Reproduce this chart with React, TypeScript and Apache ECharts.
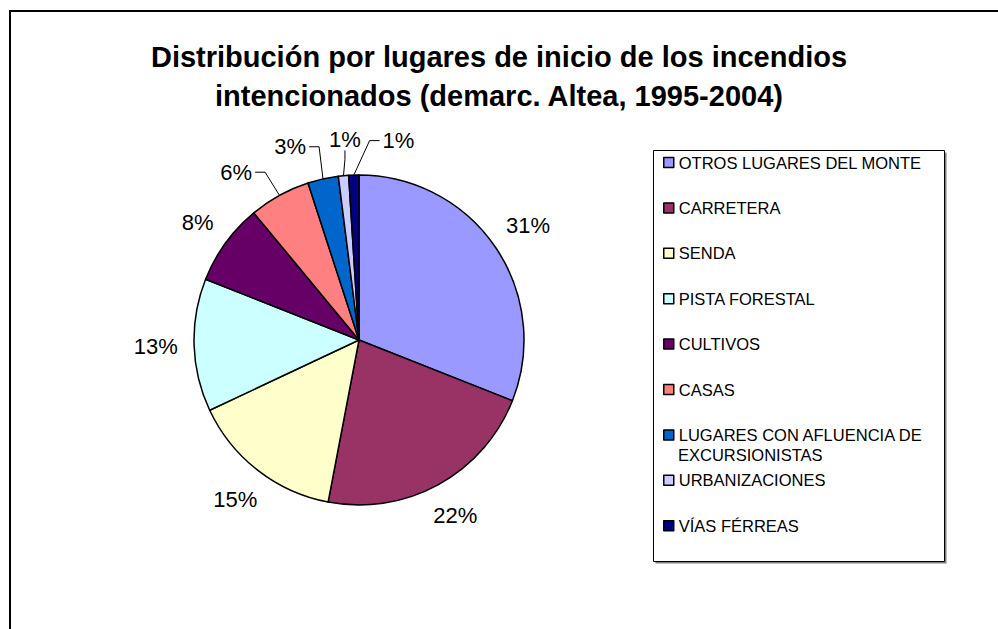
import React, { useEffect, useRef } from 'react';
import * as echarts from 'echarts';

const categories = [
  'OTROS LUGARES DEL MONTE',
  'CARRETERA',
  'SENDA',
  'PISTA FORESTAL',
  'CULTIVOS',
  'CASAS',
  'LUGARES CON AFLUENCIA DE EXCURSIONISTAS',
  'URBANIZACIONES',
  'VÍAS FÉRREAS',
];
const percentages = [31, 22, 15, 13, 8, 6, 3, 1, 1];
const colors = ['#9999FF', '#993366', '#FFFFCC', '#CCFFFF', '#660066', '#FF8080', '#0066CC', '#CCCCFF', '#000080'];
const titleLines = [
  'Distribución por lugares de inicio de los incendios',
  'intencionados (demarc. Altea, 1995-2004)',
];

const FONT = '"Liberation Sans", Arial, Helvetica, sans-serif';
const CX = 359;
const CY = 340;
const R = 165;
const LABEL_SIZE = 22;
const LABEL_GAP = 16;
const LEADER_GAP = 26;
const LEADER_LIMIT = 7;
const LEGEND_WRAP = 25;
const LEGEND_LEFT = 663;
const LEGEND_TOP = 153;
const LEGEND_LINE = 19;
const LEGEND_ITEM_GAP = 26.4;
const LEGEND_ICON = 10;
const LEGEND_FONT = 16.5;
const LEGEND_WRAP_LINE = 20;

function wrapName(name: string, max: number): string[] {
  const words = name.split(' ');
  const lines: string[] = [];
  let cur = '';
  for (const w of words) {
    const next = cur ? cur + ' ' + w : w;
    if (next.length > max && cur) {
      lines.push(cur);
      cur = w;
    } else {
      cur = next;
    }
  }
  if (cur) lines.push(cur);
  return lines;
}

function labelCenter(angleDeg: number, w: number, h: number, gap: number): [number, number] {
  const rad = (angleDeg * Math.PI) / 180;
  const s = Math.sin(rad);
  const c = Math.cos(rad);
  const d = R + gap + Math.abs(s) * (w / 2) + Math.abs(c) * (h / 2);
  return [CX + d * s, CY - d * c];
}

function gapFor(i: number) {
  return percentages[i] < LEADER_LIMIT ? LEADER_GAP : LABEL_GAP;
}

function computeLabelAngles() {
  const total = percentages.reduce((a, b) => a + b, 0);
  let acc = 0;
  const mids = percentages.map((v) => {
    const m = ((acc + v / 2) / total) * 360;
    acc += v;
    return m;
  });
  const sizes = percentages.map((v) => {
    const t = `${v}%`;
    return [(t.length - 1) * 0.556 * LABEL_SIZE + 0.889 * LABEL_SIZE, LABEL_SIZE * 1.0];
  });
  const angles = mids.slice();
  const n = angles.length;
  for (let it = 0; it < 1000; it++) {
    let any = false;
    for (let i = 0; i < n - 1; i++) {
      const j = i + 1;
      const a = labelCenter(angles[i], sizes[i][0], sizes[i][1], gapFor(i));
      const b = labelCenter(angles[j], sizes[j][0], sizes[j][1], gapFor(j));
      if (
        Math.abs(a[0] - b[0]) < (sizes[i][0] + sizes[j][0]) / 2 + 22 &&
        Math.abs(a[1] - b[1]) < (sizes[i][1] + sizes[j][1]) / 2 + 4
      ) {
        angles[i] -= 0.2;
        angles[j] += 0.2;
        any = true;
      }
    }
    if (!any) break;
  }
  return { mids, angles };
}

export default function App() {
  const ref = useRef<HTMLDivElement>(null);

  useEffect(() => {
    if (!ref.current) return;
    const chart = echarts.init(ref.current, null, { renderer: 'svg' });
    const { mids, angles } = computeLabelAngles();

    // continuation lines of wrapped legend names (the legend shows the first line)
    const wrapTexts: any[] = [];
    categories.forEach((name, k) => {
      const lines = wrapName(name, LEGEND_WRAP);
      const firstY = LEGEND_TOP + LEGEND_LINE / 2 + k * (LEGEND_LINE + LEGEND_ITEM_GAP);
      lines.slice(1).forEach((line, m) => {
        wrapTexts.push({
          type: 'text',
          z: 20,
          silent: true,
          x: LEGEND_LEFT + LEGEND_ICON + 5,
          y: firstY + (m + 1) * LEGEND_WRAP_LINE,
          style: {
            text: line,
            fill: '#000',
            font: `${LEGEND_FONT}px ${FONT}`,
            align: 'left',
            verticalAlign: 'middle',
          },
        });
      });
    });

    const option: any = {
      animation: false,
      backgroundColor: '#ffffff',
      color: colors,
      title: {
        text: titleLines.join('\n'),
        left: 'center',
        top: 32,
        textStyle: {
          fontFamily: FONT,
          fontSize: 29,
          fontWeight: 'bold',
          lineHeight: 39,
          color: '#000',
        },
      },
      graphic: [
        {
          type: 'rect',
          z: 0,
          shape: { x: 10, y: 11, width: 1100, height: 800 },
          style: { fill: 'none', stroke: '#000', lineWidth: 2 },
          silent: true,
        },
        {
          type: 'rect',
          z: 0,
          shape: { x: 655.5, y: 152.5, width: 291, height: 411 },
          style: { fill: '#808080', stroke: 'none' },
          silent: true,
        },
        {
          type: 'rect',
          z: 1,
          shape: { x: 653.5, y: 150.5, width: 291, height: 411 },
          style: { fill: '#fff', stroke: '#000', lineWidth: 1 },
          silent: true,
        },
        ...wrapTexts,
      ],
      legend: {
        orient: 'vertical',
        left: LEGEND_LEFT,
        top: LEGEND_TOP,
        padding: 0,
        itemGap: LEGEND_ITEM_GAP,
        itemWidth: LEGEND_ICON,
        itemHeight: LEGEND_ICON,
        icon: 'rect',
        selectedMode: false,
        z: 10,
        itemStyle: { borderColor: '#000', borderWidth: 1.5 },
        data: categories,
        formatter: (name: string) => wrapName(name, LEGEND_WRAP)[0],
        textStyle: {
          fontFamily: FONT,
          fontSize: LEGEND_FONT,
          lineHeight: LEGEND_LINE,
          color: '#000',
        },
      },
      series: [
        {
          type: 'pie',
          center: [CX, CY],
          radius: R,
          startAngle: 90,
          clockwise: true,
          avoidLabelOverlap: false,
          silent: true,
          itemStyle: { borderColor: '#000', borderWidth: 1.5 },
          label: {
            show: true,
            position: 'outside',
            fontFamily: FONT,
            fontSize: LABEL_SIZE,
            color: '#000',
            formatter: (p: any) => `${Math.round(p.percent)}%`,
          },
          labelLine: {
            show: true,
            length: 10,
            length2: 10,
            lineStyle: { color: '#000', width: 1 },
          },
          labelLayout: (params: any) => {
            const i = params.dataIndex;
            const w = params.labelRect.width;
            const h = params.labelRect.height * 0.85;
            const [x, y] = labelCenter(angles[i], w, h, gapFor(i));
            const rad = (mids[i] * Math.PI) / 180;
            const ex = CX + R * Math.sin(rad);
            const ey = CY - R * Math.cos(rad);
            let pts: number[][];
            if (Math.abs(x - ex) > w / 2 + 8) {
              const dir = x < ex ? 1 : -1;
              const sx = x + dir * (w / 2 + 3);
              pts = [[sx, y], [sx + dir * 10, y], [ex, ey]];
            } else {
              pts = [[x, y + h / 2 + 2], [x, y + h / 2 + 11], [ex, ey]];
            }
            return { x, y, align: 'center', verticalAlign: 'middle', labelLinePoints: pts };
          },
          data: categories.map((name, i) => ({
            name,
            value: percentages[i],
            itemStyle: { color: colors[i] },
            labelLine: { show: percentages[i] < LEADER_LIMIT },
          })),
        },
      ],
    };

    chart.setOption(option);
    return () => {
      chart.dispose();
    };
  }, []);

  return (
    <div
      ref={ref}
      style={{ position: 'absolute', left: 0, top: 0, width: 998, height: 629 }}
    />
  );
}
